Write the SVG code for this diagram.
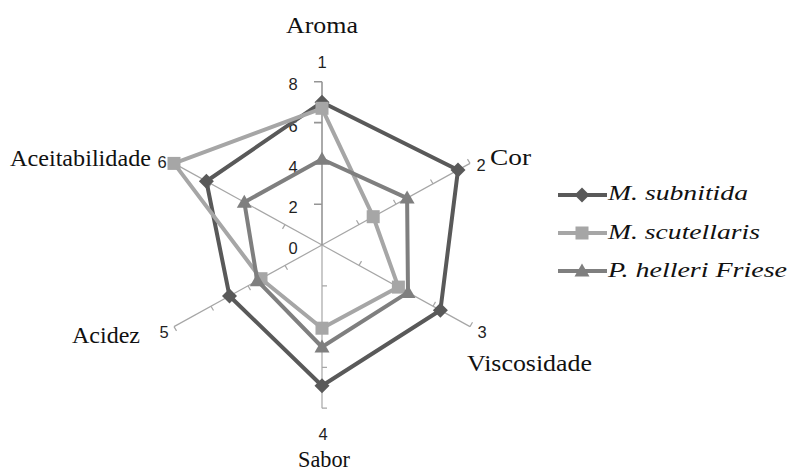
<svg xmlns="http://www.w3.org/2000/svg" xmlns:xlink="http://www.w3.org/1999/xlink" width="792" height="471" viewBox="0 0 792 471">
<style>
.spoke{stroke:#a6a6a6;stroke-width:1.2;fill:none}
.vaxis{stroke:#959595;stroke-width:1.6;fill:none}
.tick{stroke:#a6a6a6;stroke-width:1.2;fill:none}
.vtick{stroke:#959595;stroke-width:1.6;fill:none}
.num{font-family:"Liberation Sans",Arial,sans-serif;font-size:16.5px;fill:#1f1f1f;text-anchor:middle}
.cat{font-family:"Liberation Serif","Times New Roman",serif;font-size:22.5px;fill:#111111}
.leg{font-family:"Liberation Serif","Times New Roman",serif;font-size:22px;font-style:italic;fill:#111111}
.s1{stroke:#595959;stroke-width:4;fill:none;stroke-linejoin:round}
.s2{stroke:#a6a6a6;stroke-width:4;fill:none;stroke-linejoin:round}
.s3{stroke:#7f7f7f;stroke-width:4;fill:none;stroke-linejoin:round}
</style>
<defs>
<path id="dia" d="M0,-7.5 L7.5,0 L0,7.5 L-7.5,0Z" fill="#595959"/>
<rect id="sq" x="-6.5" y="-6.5" width="13" height="13" fill="#a6a6a6"/>
<path id="tri" d="M0,-7.5 L7.5,5.5 L-7.5,5.5Z" fill="#7f7f7f"/>
</defs>
<rect width="792" height="471" fill="#ffffff"/>

<g id="axes">
<line class="spoke" x1="322" y1="245" x2="470" y2="163.4"/>
<line class="spoke" x1="322" y1="245" x2="470" y2="326.6"/>
<line class="spoke" x1="322" y1="245" x2="174" y2="326.6"/>
<line class="spoke" x1="322" y1="245" x2="174" y2="163.4"/>
<line class="spoke" x1="322" y1="245" x2="322" y2="408.2"/>
<line class="vaxis" x1="322" y1="245" x2="322" y2="81.8"/>
<g id="ticks">
<path class="tick" d="M359,224.6 l-2.5,-4.3 M396,204.2 l-2.5,-4.3 M433,183.8 l-2.5,-4.3 M470,163.4 l-2.5,-4.3"/>
<path class="tick" d="M359,265.4 l2.5,-4.3 M396,285.8 l2.5,-4.3 M433,306.2 l2.5,-4.3 M470,326.6 l2.5,-4.3"/>
<path class="tick" d="M322,285.8 l5,0 M322,326.6 l5,0 M322,367.4 l5,0 M322,408.2 l5,0"/>
<path class="tick" d="M285,265.4 l2.5,4.3 M248,285.8 l2.5,4.3 M211,306.2 l2.5,4.3 M174,326.6 l2.5,4.3"/>
<path class="tick" d="M285,224.6 l-2.5,4.3 M248,204.2 l-2.5,4.3 M211,183.8 l-2.5,4.3 M174,163.4 l-2.5,4.3"/>
<path class="vtick" d="M322,204.2 l-8,0 M322,163.4 l-8,0 M322,122.6 l-8,0 M322,81.8 l-8,0"/>
</g>
</g>

<g id="value-labels">
<text class="num" x="293" y="253.5">0</text>
<text class="num" x="293" y="213">2</text>
<text class="num" x="293" y="172.5">4</text>
<text class="num" x="293" y="132">6</text>
<text class="num" x="293" y="89.5">8</text>
</g>

<g id="category-numbers">
<text class="num" x="322" y="68">1</text>
<text class="num" x="481" y="170.5">2</text>
<text class="num" x="482" y="337.5">3</text>
<text class="num" x="323" y="439.5">4</text>
<text class="num" x="164" y="337.5">5</text>
<text class="num" x="162" y="167.5">6</text>
</g>

<g id="category-names">
<text class="cat" x="286" y="33" textLength="72" lengthAdjust="spacingAndGlyphs">Aroma</text>
<text class="cat" x="490" y="165" textLength="41" lengthAdjust="spacingAndGlyphs">Cor</text>
<text class="cat" x="467" y="371" textLength="125" lengthAdjust="spacingAndGlyphs">Viscosidade</text>
<text class="cat" x="298" y="467" textLength="52" lengthAdjust="spacingAndGlyphs">Sabor</text>
<text class="cat" x="72" y="343" textLength="68" lengthAdjust="spacingAndGlyphs">Acidez</text>
<text class="cat" x="10" y="166" textLength="141" lengthAdjust="spacingAndGlyphs">Aceitabilidade</text>
</g>

<g id="series">
<g id="series-m-subnitida">
<polygon class="s1" points="322,102.2 458,170 440.4,310.3 322,385.8 229.5,296 206.4,181.25"/>
<use xlink:href="#dia" x="322" y="102.2"/>
<use xlink:href="#dia" x="458" y="170"/>
<use xlink:href="#dia" x="440.4" y="310.3"/>
<use xlink:href="#dia" x="322" y="385.8"/>
<use xlink:href="#dia" x="229.5" y="296"/>
<use xlink:href="#dia" x="206.4" y="181.25"/>
</g>
<g id="series-m-scutellaris">
<polygon class="s2" points="322,108.3 373.2,216.7 398.4,287.1 322,328.2 261,278.7 174,163.4"/>
<use xlink:href="#sq" x="322" y="108.3"/>
<use xlink:href="#sq" x="373.2" y="216.7"/>
<use xlink:href="#sq" x="398.4" y="287.1"/>
<use xlink:href="#sq" x="322" y="328.2"/>
<use xlink:href="#sq" x="261" y="278.7"/>
<use xlink:href="#sq" x="174" y="163.4"/>
</g>
<g id="series-p-helleri">
<polygon class="s3" points="322,159.3 407.1,198.1 408,292.4 322,347 257.3,280.7 244.3,202.2"/>
<use xlink:href="#tri" x="322" y="159.3"/>
<use xlink:href="#tri" x="407.1" y="198.1"/>
<use xlink:href="#tri" x="408" y="292.4"/>
<use xlink:href="#tri" x="322" y="347"/>
<use xlink:href="#tri" x="257.3" y="280.7"/>
<use xlink:href="#tri" x="244.3" y="202.2"/>
</g>
</g>

<g id="legend">
<g id="legend-m-subnitida">
<line class="s1" x1="558" y1="195" x2="607" y2="195"/>
<use xlink:href="#dia" x="582" y="195"/>
<text class="leg" x="608" y="200" textLength="140" lengthAdjust="spacingAndGlyphs">M. subnitida</text>
</g>
<g id="legend-m-scutellaris">
<line class="s2" x1="558" y1="233" x2="607" y2="233"/>
<use xlink:href="#sq" x="582" y="233"/>
<text class="leg" x="608" y="239" textLength="152" lengthAdjust="spacingAndGlyphs">M. scutellaris</text>
</g>
<g id="legend-p-helleri">
<line class="s3" x1="558" y1="271" x2="607" y2="271"/>
<use xlink:href="#tri" x="582" y="271"/>
<text class="leg" x="608" y="277" textLength="179" lengthAdjust="spacingAndGlyphs">P. helleri Friese</text>
</g>
</g>
</svg>
